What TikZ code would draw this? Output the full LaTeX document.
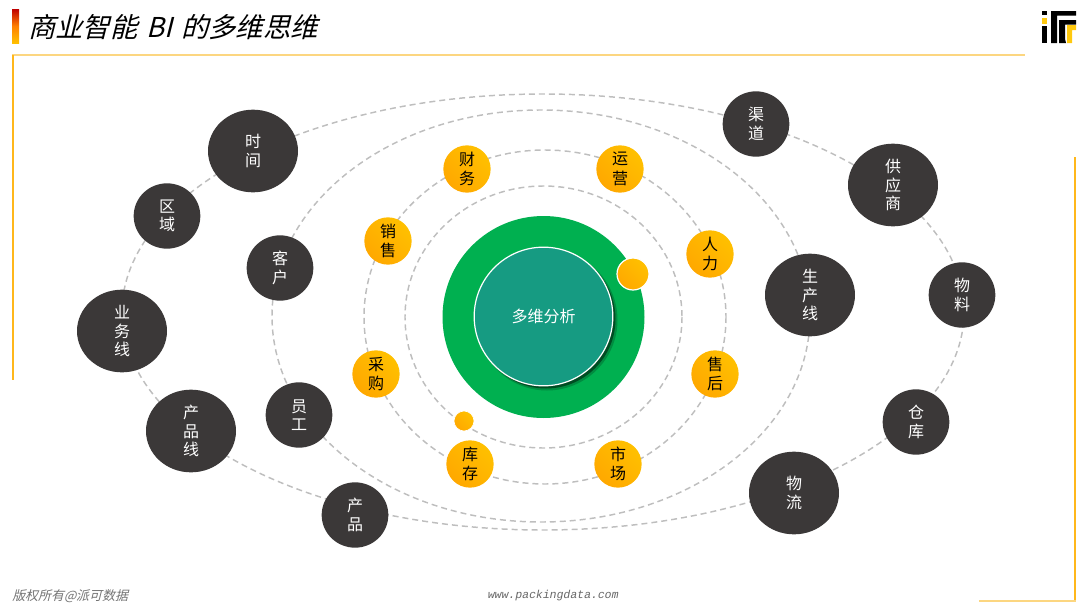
\documentclass[tikz,border=0pt]{standalone}
\usepackage{fontspec}
\setmainfont{Noto Sans CJK SC}
\newfontfamily\titlefont[AutoFakeSlant=0.25]{Noto Sans CJK SC}
\newfontfamily\footfont[AutoFakeSlant=0.25]{Noto Sans CJK SC}
\newfontfamily\urlfont[AutoFakeSlant=0.2]{Liberation Mono}
\usetikzlibrary{shapes.geometric}
\definecolor{darkn}{HTML}{3B3838}
\definecolor{ringc}{HTML}{BEBEBE}
\definecolor{frameL}{HTML}{FCD680}
\definecolor{frameD}{HTML}{FFB71B}
\definecolor{greenr}{HTML}{00B050}
\definecolor{teal1}{HTML}{169B82}
\definecolor{org1}{HTML}{FFC000}
\definecolor{org2}{HTML}{FFA800}
\definecolor{logoyc}{HTML}{FFC90E}
\tikzset{
  ring/.style={draw=ringc,line width=1.1pt,dash pattern=on 4.5pt off 3pt},
  bign/.style={ellipse,fill=darkn,text=white,minimum width=67.5pt,minimum height=62pt,inner sep=0pt,align=center,font=\fontsize{12}{14}\selectfont},
  smalln/.style={ellipse,fill=darkn,text=white,minimum width=50pt,minimum height=49pt,inner sep=0pt,align=center,font=\fontsize{12}{14}\selectfont},
  orgn/.style={circle,left color=org1,right color=org2,shading angle=-45,text=black,minimum size=35.5pt,inner sep=0pt,align=center,font=\fontsize{12}{14.5}\selectfont},
  dot/.style={circle,left color=org1,right color=org2,shading angle=-45,inner sep=0pt},
  logob/.style={fill=black},
  logoy/.style={fill=logoyc},
  frameh/.style={fill=frameL},
  framev/.style={fill=frameD}
}
\begin{document}
\begin{tikzpicture}[x=0.75pt,y=-0.75pt]
\useasboundingbox (0,0) rectangle (1086,607);
% title
\shade[top color=red!75!black,bottom color=org1,middle color=orange] (12,9) rectangle (19,43);
\node[anchor=west,inner sep=0pt,font=\fontsize{20.5}{24}\selectfont\titlefont\itshape] (title) at (28,27) {商业智能\hspace{2pt} BI\hspace{2pt} 的多维思维};
% frame
\fill[frameh] (12,54) rectangle (1025,56);
\fill[framev] (12,55) rectangle (13.5,380);
\fill[framev] (1074,157) rectangle (1075.5,600);
\fill[frameh] (979,599.5) rectangle (1075.5,601.5);
% logo
\fill[logob] (1042,11) rectangle (1047,15);
\fill[logoy] (1042,18) rectangle (1047,24);
\fill[logob] (1042,26) rectangle (1047,43);
\fill[logob] (1051,43) -- (1051,11) -- (1076,11) -- (1076,15.5) -- (1057,15.5) -- (1057,43) -- cycle;
\fill[logob] (1059,43) -- (1059,20) -- (1076,20) -- (1076,24.5) -- (1065,24.5) -- (1065,39) -- (1066,43) -- cycle;
\fill[logoy] (1067,43) -- (1067,25) -- (1076,25) -- (1076,30) -- (1072,30) -- (1072,43) -- cycle;
% rings
\draw[ring] (543.5,317) ellipse [x radius=138.5,y radius=131];
\draw[ring] (545,317) ellipse [x radius=181,y radius=167];
\draw[ring] (541,316) ellipse [x radius=269,y radius=206];
\draw[ring] (543,312) ellipse [x radius=421,y radius=218];
% centre
\fill[greenr] (543.5,317) circle [radius=101];
\fill[black,opacity=.2] (547,320) circle [radius=70.5];
\fill[black,opacity=.45] (546,319) circle [radius=69.5];
\node[circle,fill=teal1,draw=white,line width=.9pt,minimum size=104pt,inner sep=0pt,text=white,font=\fontsize{12}{14}\selectfont] (core) at (543.5,316.5) {多维分析};
\node[dot,draw=white,line width=.9pt,minimum size=24pt] (d1) at (633,274) {};
\node[dot,draw=white,line width=.5pt,minimum size=15pt] (d2) at (464,421) {};
% orange
\node[orgn] (cw) at (467,169) {财\\务};
\node[orgn] (yy) at (620,169) {运\\营};
\node[orgn] (rl) at (710,254) {人\\力};
\node[orgn] (sh) at (715,374) {售\\后};
\node[orgn] (sc) at (618,464) {市\\场};
\node[orgn] (kc) at (470,464) {库\\存};
\node[orgn] (cg) at (376,374) {采\\购};
\node[orgn] (xs) at (388,241) {销\\售};
% dark
\node[bign] (sj) at (253,151) {时\\间};
\node[smalln] (qy) at (167,216) {区\\域};
\node[bign] (ywx) at (122,331) {业\\务\\线};
\node[bign] (cpx) at (191,431) {产\\品\\线};
\node[smalln] (cp) at (355,515) {产\\品};
\node[smalln] (kh) at (280,268) {客\\户};
\node[smalln] (yg) at (299,415) {员\\工};
\node[smalln] (qd) at (756,124) {渠\\道};
\node[bign] (gys) at (893,185) {供\\应\\商};
\node[smalln] (wl) at (962,295) {物\\料};
\node[bign] (scx) at (810,295) {生\\产\\线};
\node[smalln] (ck) at (916,422) {仓\\库};
\node[bign] (wlu) at (794,493) {物\\流};
% footer
\node[anchor=west,inner sep=0pt,text=black!55,font=\fontsize{9.7}{12}\selectfont\footfont\itshape] (copy) at (12,596) {版权所有@派可数据};
\node[anchor=west,inner sep=0pt,text=black!60,font=\fontsize{8.6}{10}\selectfont\urlfont\itshape] (url) at (487,596) {www.packingdata.com};
\end{tikzpicture}
\end{document}
